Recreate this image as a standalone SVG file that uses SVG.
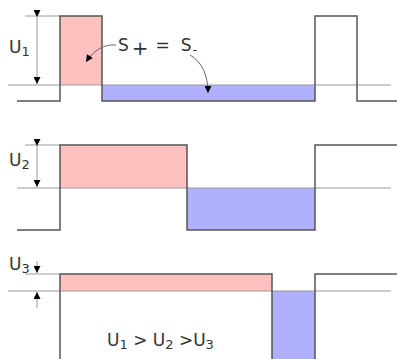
<svg xmlns="http://www.w3.org/2000/svg" width="397" height="359" viewBox="0 0 397 359">
<defs>
<marker id="ah" viewBox="0 0 10 10" refX="10" refY="5" markerWidth="10" markerHeight="7" orient="auto" markerUnits="userSpaceOnUse">
<path d="M0,0 L10,5 L0,10 Z" fill="#000"/>
</marker>
<marker id="ah2" viewBox="0 0 10 10" refX="10" refY="5" markerWidth="10" markerHeight="7" orient="auto" markerUnits="userSpaceOnUse">
<path d="M0,0 L10,5 L0,10 Z" fill="#000"/>
</marker>
</defs>
<style>
.pos{fill:#ffc0c0;stroke:none}
.neg{fill:#b0b0ff;stroke:none}
.sig{fill:none;stroke:#555;stroke-width:1.5}
.ref{fill:none;stroke:#999;stroke-width:1}
.dim{fill:none;stroke:#999;stroke-width:1}
.t{font-family:"DejaVu Sans",Verdana,sans-serif;font-size:17px;fill:#333}
.s{font-size:13px}
.cv{fill:none;stroke:#666;stroke-width:1}
</style>
<g id="panel1">
<rect class="pos" x="60" y="16" width="42" height="69"/>
<rect class="neg" x="102" y="85" width="213" height="16"/>
<line class="ref" x1="8" y1="85" x2="391" y2="85"/>
<line class="ref" x1="25" y1="16" x2="60" y2="16"/>
<polyline class="sig" points="17,101 60,101 60,16 102,16 102,101 315,101 315,16 357,16 357,101 397,101"/>
<line class="dim" x1="37" y1="17" x2="37" y2="84" marker-start="url(#ah)" marker-end="url(#ah)"/>
<text class="t" x="9" y="53">U<tspan class="s" dy="3">1</tspan></text>
</g>
<g id="panel2">
<rect class="pos" x="60" y="145" width="127" height="43"/>
<rect class="neg" x="187" y="188" width="128" height="42"/>
<line class="ref" x1="17" y1="188" x2="391" y2="188"/>
<line class="ref" x1="25" y1="145" x2="60" y2="145"/>
<polyline class="sig" points="17,230 60,230 60,145 187,145 187,230 315,230 315,145 397,145"/>
<line class="dim" x1="37" y1="146" x2="37" y2="187" marker-start="url(#ah)" marker-end="url(#ah)"/>
<text class="t" x="9" y="166">U<tspan class="s" dy="3">2</tspan></text>
</g>
<g id="panel3">
<rect class="pos" x="60" y="274" width="212" height="17"/>
<rect class="neg" x="272" y="291" width="43" height="70"/>
<line class="ref" x1="8" y1="291" x2="391" y2="291"/>
<line class="ref" x1="25" y1="274" x2="60" y2="274"/>
<polyline class="sig" points="60,361 60,274 272,274 272,361"/>
<polyline class="sig" points="315,361 315,274 397,274"/>
<line class="dim" x1="37" y1="261" x2="37" y2="273" marker-end="url(#ah)"/>
<line class="dim" x1="37" y1="308" x2="37" y2="292" marker-end="url(#ah)"/>
<text class="t" x="9" y="270">U<tspan class="s" dy="3">3</tspan></text>
</g>
<g id="labels">
<text class="t" x="118" y="51">S<tspan dy="4" dx="3" font-size="20">+</tspan><tspan dy="-4" dx="7">=</tspan><tspan dx="11">S</tspan><tspan class="s" dy="3" dx="1">-</tspan></text>
<text class="t" x="107" y="346">U<tspan class="s" dy="3">1</tspan><tspan dy="-3"> &gt; U</tspan><tspan class="s" dy="3">2</tspan><tspan dy="-3"> &gt;U</tspan><tspan class="s" dy="3">3</tspan></text>
</g>
<g id="connectors">
<path class="cv" d="M116,45 C104,44 94,50 86,62" marker-end="url(#ah2)"/>
<path class="cv" d="M190,55 C202,62 208,75 208,93" marker-end="url(#ah2)"/>
</g>
</svg>
